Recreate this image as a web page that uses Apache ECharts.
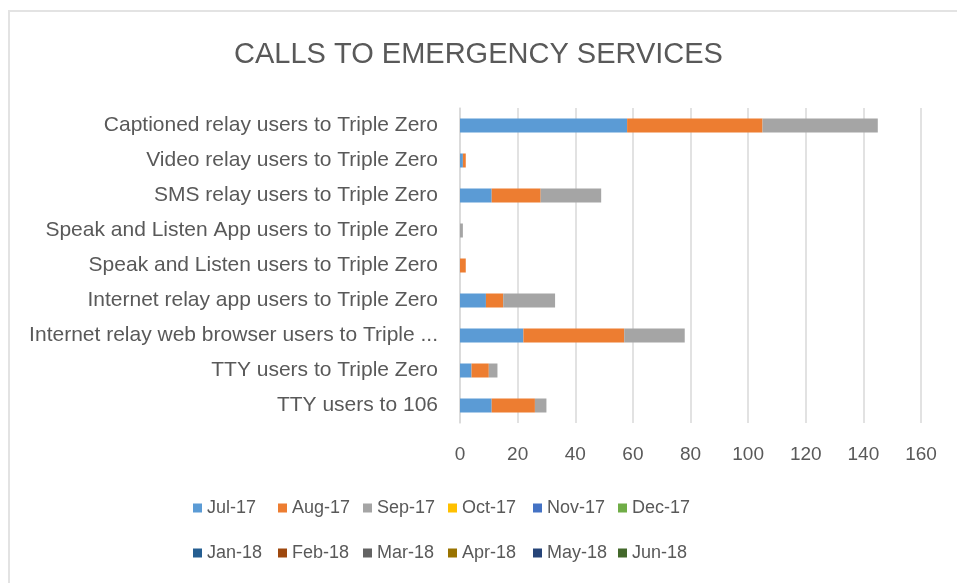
<!DOCTYPE html>
<html>
<head>
<meta charset="utf-8">
<script src="https://cdn.jsdelivr.net/npm/echarts@6/dist/echarts.min.js"></script>
<style>
  body { margin: 0; background: #fff; }
  #chart { position: absolute; left: 0; top: 0; width: 957px; height: 583px; }
  #frame { position: absolute; left: 8px; top: 10px; width: 960px; height: 580px;
           border-top: 2px solid #e3e3e3; border-left: 2px solid #e3e3e3; pointer-events: none; }
</style>
</head>
<body>
<div id="chart"></div>
<div id="frame"></div>
<script>
// categories, top to bottom as shown
var categories = [
  'Captioned relay users to Triple Zero',
  'Video relay users to Triple Zero',
  'SMS relay users to Triple Zero',
  'Speak and Listen App users to Triple Zero',
  'Speak and Listen users to Triple Zero',
  'Internet relay app users to Triple Zero',
  'Internet relay web browser users to Triple Zero',
  'TTY users to Triple Zero',
  'TTY users to 106'
];

var months = ['Jul-17', 'Aug-17', 'Sep-17', 'Oct-17', 'Nov-17', 'Dec-17',
              'Jan-18', 'Feb-18', 'Mar-18', 'Apr-18', 'May-18', 'Jun-18'];

var jul17 = [58, 1, 11, 0, 0, 9, 22, 4, 11];
var aug17 = [47, 1, 17, 0, 2, 6, 35, 6, 15];
var sep17 = [40, 0, 21, 1, 0, 18, 21, 3, 4];
// later months have no data yet
var oct17 = [], nov17 = [], dec17 = [], jan18 = [], feb18 = [], mar18 = [],
    apr18 = [], may18 = [], jun18 = [];

var monthData = [jul17, aug17, sep17, oct17, nov17, dec17, jan18, feb18, mar18, apr18, may18, jun18];

var colors = ['#5B9BD5', '#ED7D31', '#A5A5A5', '#FFC000', '#4472C4', '#70AD47',
              '#255E91', '#9E480E', '#636363', '#997300', '#264478', '#43682B'];

var xTicks = [0, 160, 20]; // min, max, step

var dom = document.getElementById('chart');
var myChart = echarts.init(dom);
var font = 'Liberation Sans, Arial, sans-serif';

var series = months.map(function (m, i) {
  return {
    name: m,
    type: 'bar',
    stack: 'total',
    barWidth: 14,
    data: monthData[i],
    itemStyle: { color: colors[i] }
  };
});

// one legend per entry so the columns line up like the Excel legend
var legends = months.map(function (m, i) {
  return {
    data: [m],
    left: 188 + (i % 6) * 85,
    top: i < 6 ? 494 : 539,
    itemWidth: 9,
    itemHeight: 9,
    icon: 'rect',
    textStyle: { color: '#595959', fontSize: 18, fontFamily: font }
  };
});

var option = {
  animation: false,
  color: colors,
  title: {
    text: 'CALLS TO EMERGENCY SERVICES',
    left: 'center',
    top: 35,
    textStyle: { color: '#595959', fontSize: 29, fontWeight: 'normal', fontFamily: font }
  },
  legend: legends,
  grid: { left: 460, right: 36, top: 108, bottom: 160 },
  xAxis: {
    type: 'value',
    min: xTicks[0],
    max: xTicks[1],
    interval: xTicks[2],
    axisLine: { show: false },
    axisTick: { show: false },
    splitLine: { lineStyle: { color: '#d9d9d9', width: 1.5 } },
    axisLabel: { color: '#595959', fontSize: 19, fontFamily: font, margin: 22 }
  },
  yAxis: {
    type: 'category',
    data: categories,
    inverse: true,
    axisLine: { show: true, lineStyle: { color: '#d9d9d9', width: 1.5 } },
    axisTick: { show: false },
    axisLabel: {
      color: '#595959', fontSize: 21, fontFamily: font, margin: 22,
      width: 425, overflow: 'truncate', ellipsis: '...'
    }
  },
  series: series
};

myChart.setOption(option);
</script>
</body>
</html>
